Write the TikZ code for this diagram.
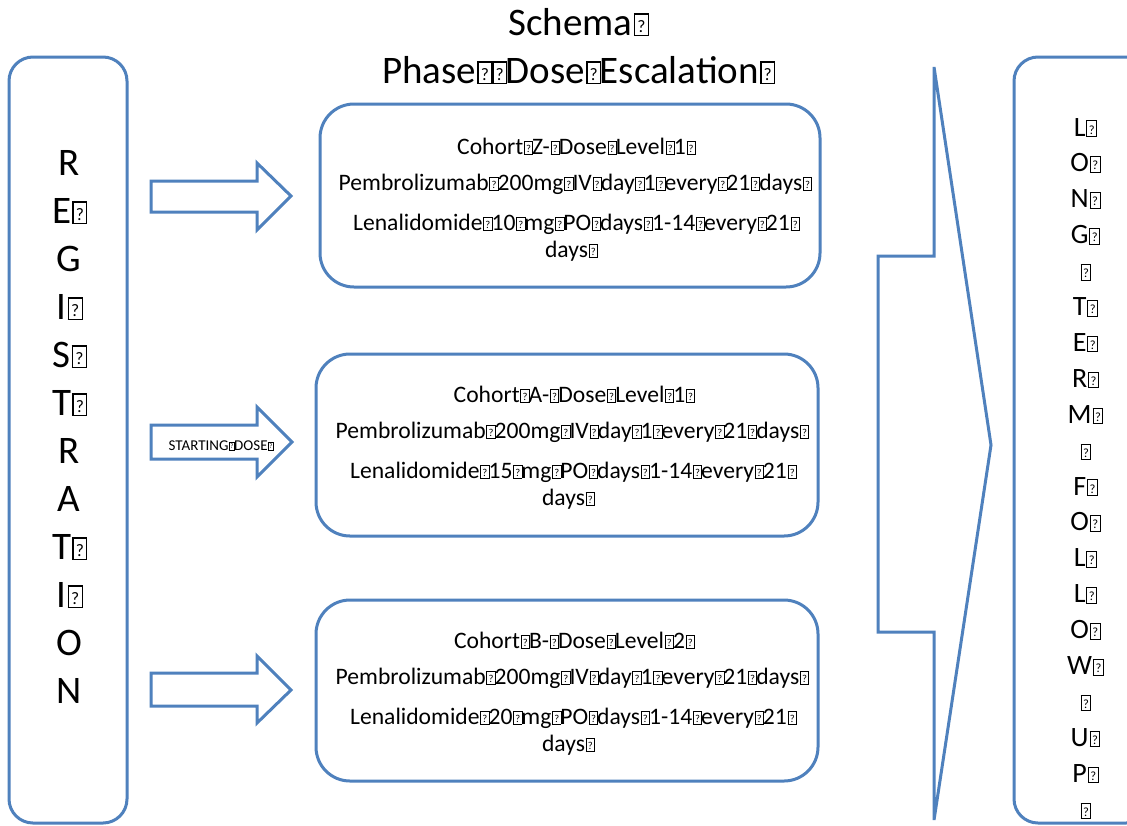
\documentclass[tikz,border=0pt]{standalone}
\usepackage{fontspec}
\setmainfont{Carlito}
\definecolor{ob}{HTML}{4F81BD}
\newcommand{\qb}{\kern0.03em{\setlength{\fboxsep}{0pt}\setlength{\fboxrule}{0.035em}\fbox{\makebox[0.32em]{\rule{0pt}{0.52em}\raisebox{0.07em}{\scalebox{0.45}{?}}}}}\kern-0.04em}
\begin{document}
\begin{tikzpicture}[x=0.5pt,y=-0.5pt,
  shapeline/.style={draw=ob,line width=1.5pt,line join=miter},
  roundbox/.style={shapeline,rounded corners=17pt},
  sidebox/.style={shapeline,rounded corners=12pt},
  txt/.style={inner sep=0pt,anchor=base},
  titletxt/.style={txt,font=\fontsize{19.5}{24}\selectfont},
  boxtxt/.style={txt,font=\fontsize{11.8}{14}\selectfont},
  lefttxt/.style={txt,font=\fontsize{19.5}{24}\selectfont},
  righttxt/.style={txt,font=\fontsize{14}{18}\selectfont},
  smalltxt/.style={txt,font=\fontsize{7.5}{9}\selectfont}]
\useasboundingbox (0,0) rectangle (1127,825);
\fill[white] (0,0) rectangle (1127,825);

% title
\node[titletxt] (t1) at (578,35) {Schema\qb};
\node[titletxt] (t2) at (578,83) {Phase\qb\qb Dose\qb Escalation\qb};

% side boxes
\draw[sidebox] (9,57) rectangle (127,823);
\draw[sidebox] (1014,57) rectangle (1150,823);

% registration letters
\foreach \t [count=\i from 0] in {R,E\qb,G,I\qb,S\qb,T\qb,R,A,T\qb,I\qb,O,N}
  \node[lefttxt] (reg\i) at (69,175+48*\i) {\t};

% long term follow up letters
\foreach \t [count=\i from 0] in {L\qb,O\qb,N\qb,G\qb,\qb\hspace{0.8em},T\qb,E\qb,R\qb,M\qb,\qb\hspace{0.8em},F\qb,O\qb,L\qb,L\qb,O\qb,W\qb,\qb\hspace{0.8em},U\qb,P\qb,\qb\hspace{0.8em}}
  \node[righttxt] (ltf\i) at (1085,136+35.9*\i) {\t};

% middle boxes
\draw[roundbox] (320,104) rectangle (820,287);
\draw[roundbox] (316,354) rectangle (818,536);
\draw[roundbox] (316,600) rectangle (818,781);

% box 1
\node[boxtxt] (c1) at (576,154) {Cohort\qb Z-\qb Dose\qb Level\qb 1\qb};
\node[boxtxt] (p1) at (575,190) {Pembrolizumab\qb 200mg\qb IV\qb day\qb 1\qb every\qb 21\qb days\qb};
\node[boxtxt] (l1) at (576,230) {Lenalidomide\qb 10\qb mg\qb PO\qb days\qb 1-14\qb every\qb 21\qb};
\node[boxtxt] (d1) at (571,257) {days\qb};

% box 2
\node[boxtxt] (c2) at (574,402) {Cohort\qb A-\qb Dose\qb Level\qb 1\qb};
\node[boxtxt] (p2) at (572,438) {Pembrolizumab\qb 200mg\qb IV\qb day\qb 1\qb every\qb 21\qb days\qb};
\node[boxtxt] (l2) at (573,478) {Lenalidomide\qb 15\qb mg\qb PO\qb days\qb 1-14\qb every\qb 21\qb};
\node[boxtxt] (d2) at (568,505) {days\qb};

% box 3
\node[boxtxt] (c3) at (574,648) {Cohort\qb B-\qb Dose\qb Level\qb 2\qb};
\node[boxtxt] (p3) at (572,684) {Pembrolizumab\qb 200mg\qb IV\qb day\qb 1\qb every\qb 21\qb days\qb};
\node[boxtxt] (l3) at (573,724) {Lenalidomide\qb 20\qb mg\qb PO\qb days\qb 1-14\qb every\qb 21\qb};
\node[boxtxt] (d3) at (568,751) {days\qb};

% block arrows
\draw[shapeline] (151,181) -- (257,181) -- (257,163) -- (291,196) -- (257,230) -- (257,212) -- (151,212) -- cycle;
\draw[shapeline] (151,425) -- (257,425) -- (257,407) -- (292,442) -- (257,477) -- (257,459) -- (151,459) -- cycle;
\draw[shapeline] (151,673) -- (257,673) -- (257,656) -- (291,690) -- (257,723) -- (257,706) -- (151,706) -- cycle;
\node[smalltxt] (sd) at (221,450) {STARTING\qb DOSE\qb};

% chevron
\draw[shapeline] (934,67) -- (991,445) -- (934,820) -- (934,632) -- (878,632) -- (878,256) -- (934,256) -- cycle;
\end{tikzpicture}
\end{document}
